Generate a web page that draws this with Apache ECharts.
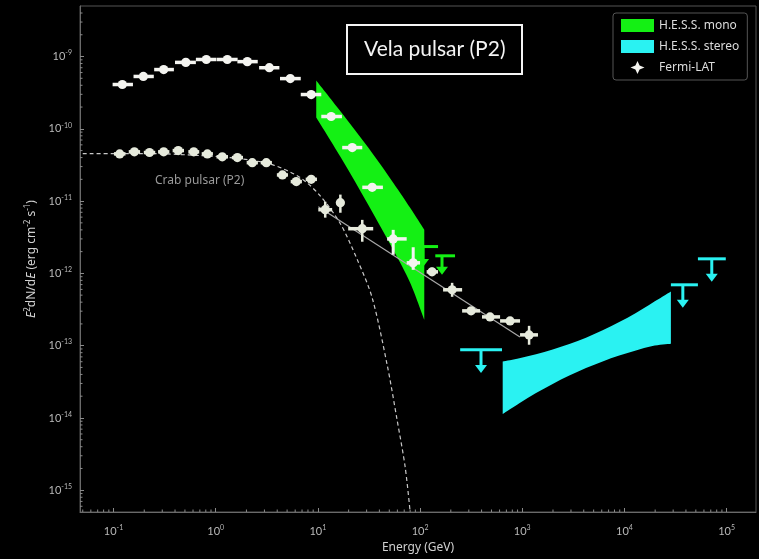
<!DOCTYPE html>
<html>
<head>
<meta charset="utf-8">
<script src="https://cdn.jsdelivr.net/npm/echarts@6/dist/echarts.min.js"></script>
<style>
  html, body { margin: 0; padding: 0; background: #000; }
  #chart { width: 759px; height: 559px; }
</style>
</head>
<body>
<div id="chart"></div>
<script>
// ---- Vela pulsar (P2), Fermi-LAT points (GeV, erg cm^-2 s^-1) ----
const velaE   = [0.122, 0.196, 0.31, 0.51, 0.81, 1.3, 2.04, 3.35, 5.37, 8.6, 13.5, 21.7, 34, 54.6, 85.7];
const velaF   = [4.1e-10, 5.3e-10, 6.6e-10, 8.3e-10, 9.1e-10, 9.1e-10, 8.5e-10, 7.0e-10, 4.95e-10, 2.98e-10, 1.48e-10, 5.5e-11, 1.55e-11, 3.0e-12, 1.4e-12];
const velaElo = [0.098, 0.157, 0.25, 0.40, 0.64, 1.03, 1.63, 2.66, 4.26, 6.8, 10.8, 17.3, 27.2, 47.6, 74];
const velaEhi = [0.155, 0.248, 0.39, 0.64, 1.02, 1.64, 2.58, 4.2, 6.8, 10.8, 17.2, 27.2, 43.3, 74, 100];
const velaFlo = [null, null, null, null, null, null, null, null, null, null, null, null, null, 1.81e-12, 1.12e-12];
const velaFhi = [null, null, null, null, null, null, null, null, null, null, null, null, null, 4.0e-12, 2.3e-12];

// ---- Crab pulsar (P2) points ----
const crabE   = [0.115, 0.16, 0.225, 0.31, 0.43, 0.61, 0.83, 1.16, 1.63, 2.28, 3.13, 4.5, 6.15, 8.6, 11.8, 16.6, 27.2, 131, 206, 316, 484, 760, 1167];
const crabF   = [4.5e-11, 4.8e-11, 4.7e-11, 4.8e-11, 5.0e-11, 4.8e-11, 4.5e-11, 4.1e-11, 4.0e-11, 3.4e-11, 3.4e-11, 2.3e-11, 1.86e-11, 2.0e-11, 7.6e-12, 9.5e-12, 4.15e-12, 1.05e-12, 5.93e-13, 3.03e-13, 2.5e-13, 2.2e-13, 1.41e-13];
const crabElo = [0.101, 0.141, 0.198, 0.273, 0.379, 0.54, 0.73, 1.02, 1.44, 2.01, 2.76, 3.97, 5.42, 7.6, 10.1, 15.2, 19.8, 116, 168, 258, 404, 607, 952];
const crabEhi = [0.131, 0.182, 0.256, 0.352, 0.49, 0.69, 0.94, 1.32, 1.85, 2.59, 3.55, 5.1, 6.98, 9.8, 13.8, 18.1, 34.8, 150, 258, 387, 607, 952, 1426];
const crabFlo = [null, null, null, null, null, null, null, null, null, null, null, null, null, null, 5.9e-12, 6.9e-12, 2.74e-12, 9.2e-13, 4.74e-13, 2.7e-13, 2.25e-13, 1.98e-13, 1.03e-13];
const crabFhi = [null, null, null, null, null, null, null, null, null, null, null, null, null, null, 9.8e-12, 1.23e-11, 5.5e-12, 1.2e-12, 7.4e-13, 3.4e-13, 2.78e-13, 2.45e-13, 1.88e-13];

// Crab model curve (dashed) and power-law fit (solid)
const crabModelE = [0.05, 0.23, 0.71, 1.74, 3.58, 6.73, 10.5, 16.6, 24.3, 34, 47.7, 59.7, 71.5, 80];
const crabModelF = [4.54e-11, 4.54e-11, 4.26e-11, 3.86e-11, 3.19e-11, 2.11e-11, 1.19e-11, 4.87e-12, 1.55e-12, 4.6e-13, 5.4e-14, 9.3e-15, 2.1e-15, 5e-16];
const crabFitE = [10.1, 950];
const crabFitF = [8.35e-12, 1.32e-13];

// ---- H.E.S.S. mono butterfly ----
const monoE  = [9.64, 17.3, 31.1, 54.6, 80, 110];
const monoHi = [4.66e-10, 1.63e-10, 5.5e-11, 1.8e-11, 8.1e-12, 4.02e-12];
const monoLo = [1.43e-10, 3.74e-11, 8.9e-12, 2.12e-12, 7.4e-13, 2.28e-13];

// ---- H.E.S.S. stereo butterfly ----
const stereoE  = [644, 937, 1365, 1986, 2891, 4207, 6124, 8898, 12950, 18840, 28500];
const stereoHi = [6.03e-14, 6.70e-14, 7.62e-14, 8.84e-14, 1.054e-13, 1.29e-13, 1.63e-13, 2.12e-13, 2.84e-13, 3.92e-13, 5.62e-13];
const stereoLo = [1.135e-14, 1.60e-14, 2.21e-14, 2.96e-14, 3.86e-14, 4.90e-14, 6.06e-14, 7.30e-14, 8.57e-14, 9.89e-14, 1.06e-13];

// ---- Upper limits: [E, F, Elo, Ehi, arrow tip F] ----
const monoUlE   = [107, 164];
const monoUlF   = [2.35e-12, 1.75e-12];
const monoUlElo = [76, 141];
const monoUlEhi = [150, 220];
const monoUlTip = [1.23e-12, 9.6e-13];

const stereoUlE   = [395, 37300, 71600];
const stereoUlF   = [8.75e-14, 6.95e-13, 1.59e-12];
const stereoUlElo = [247, 28500, 52400];
const stereoUlEhi = [634, 52400, 98200];
const stereoUlTip = [4.2e-14, 3.34e-13, 7.66e-13];

// Axis ranges and log minor tick mantissas
const xMin = 0.047, xMax = 1.94e5;
const yMin = 5e-16, yMax = 5e-9;
const minorMantissas = [2, 3, 4, 5, 6, 7, 8, 9];

const GREEN = '#14f014';
const CYAN = '#2af2f2';
const WHITE = '#f4f4f0';
const CREAM = '#e6eadc';
const FONT = 'Lato, "Noto Sans", sans-serif';
const WIDE = '"Noto Sans", Lato, sans-serif';

const zip = (...cols) => cols[0].map((_, i) => cols.map(c => (c[i] == null ? 0 : c[i])));

// Catmull-Rom spline through screen points, as SVG cubic segments
function splinePath(pts, start) {
  let d = start ? 'M' + pts[0][0] + ' ' + pts[0][1] : 'L' + pts[0][0] + ' ' + pts[0][1];
  for (let i = 0; i < pts.length - 1; i++) {
    const p0 = pts[Math.max(i - 1, 0)], p1 = pts[i], p2 = pts[i + 1], p3 = pts[Math.min(i + 2, pts.length - 1)];
    const c1 = [p1[0] + (p2[0] - p0[0]) / 6, p1[1] + (p2[1] - p0[1]) / 6];
    const c2 = [p2[0] - (p3[0] - p1[0]) / 6, p2[1] - (p3[1] - p1[1]) / 6];
    d += 'C' + c1[0] + ' ' + c1[1] + ' ' + c2[0] + ' ' + c2[1] + ' ' + p2[0] + ' ' + p2[1];
  }
  return d;
}

function pointRenderer(color, hw, vw, r) {
  return function (params, api) {
    const e = api.value(0), f = api.value(1);
    const c = api.coord([e, f]);
    const kids = [];
    const elo = api.value(2), ehi = api.value(3);
    if (elo > 0 && ehi > 0) {
      const a = api.coord([elo, f]), b = api.coord([ehi, f]);
      kids.push({ type: 'line', shape: { x1: a[0], y1: a[1], x2: b[0], y2: b[1] },
        style: { stroke: color, lineWidth: hw } });
    }
    const flo = api.value(4), fhi = api.value(5);
    if (flo > 0 && fhi > 0) {
      const a = api.coord([e, flo]), b = api.coord([e, fhi]);
      kids.push({ type: 'line', shape: { x1: a[0], y1: a[1], x2: b[0], y2: b[1] },
        style: { stroke: color, lineWidth: vw } });
    }
    kids.push({ type: 'circle', shape: { cx: c[0], cy: c[1], r: r }, style: { fill: color } });
    return { type: 'group', children: kids };
  };
}

// Filled butterfly: rows are [E, F upper, F lower]
function bandRenderer(color) {
  return function (params, api) {
    if (params.dataIndex !== 0) return null;
    const n = params.dataInsideLength;
    const top = [], bottom = [];
    for (let i = 0; i < n; i++) {
      const e = api.value(0, i);
      top.push(api.coord([e, api.value(1, i)]));
      bottom.push(api.coord([e, api.value(2, i)]));
    }
    const d = splinePath(top, true) + splinePath(bottom.reverse(), false) + 'Z';
    return { type: 'path', shape: { pathData: d }, style: { fill: color } };
  };
}

function ulRenderer(color) {
  return function (params, api) {
    const e = api.value(0), f = api.value(1);
    const a = api.coord([api.value(2), f]), b = api.coord([api.value(3), f]);
    const c = api.coord([e, f]);
    const tip = api.coord([e, api.value(4)]);
    const headH = 8, headW = 6;
    return { type: 'group', children: [
      { type: 'line', shape: { x1: a[0], y1: a[1], x2: b[0], y2: b[1] }, style: { stroke: color, lineWidth: 3 } },
      { type: 'line', shape: { x1: c[0], y1: c[1], x2: c[0], y2: tip[1] - headH + 1 }, style: { stroke: color, lineWidth: 3 } },
      { type: 'polygon', shape: { points: [[c[0] - headW, tip[1] - headH], [c[0] + headW, tip[1] - headH], [c[0], tip[1]]] },
        style: { fill: color } }
    ] };
  };
}

// Minor ticks at 2..9 x 10^n along both log axes, drawn inside the frame
function minorTickRenderer(params, api) {
  const kids = [];
  const stroke = { stroke: '#8a8a8a', lineWidth: 1 };
  for (let p = Math.floor(Math.log10(xMin)); p <= Math.ceil(Math.log10(xMax)); p++) {
    minorMantissas.forEach(m => {
      const v = m * Math.pow(10, p);
      if (v <= xMin || v >= xMax) return;
      const q = api.coord([v, yMin]);
      kids.push({ type: 'line', shape: { x1: q[0], y1: q[1], x2: q[0], y2: q[1] - 2.5 }, style: stroke });
    });
  }
  for (let p = Math.floor(Math.log10(yMin)); p <= Math.ceil(Math.log10(yMax)); p++) {
    minorMantissas.forEach(m => {
      const v = m * Math.pow(10, p);
      if (v <= yMin || v >= yMax) return;
      const q = api.coord([xMin, v]);
      kids.push({ type: 'line', shape: { x1: q[0], y1: q[1], x2: q[0] + 2.5, y2: q[1] }, style: stroke });
    });
  }
  return { type: 'group', children: kids };
}

function powLabel(v) {
  const p = Math.round(Math.log10(v));
  if (Math.abs(Math.log10(v) - p) > 1e-6) return '';
  return '10{s|' + p + '}';
}

const chart = echarts.init(document.getElementById('chart'));
chart.setOption({
  backgroundColor: '#000',
  animation: false,
  title: {
    text: 'Vela pulsar (P2)',
    left: 347, top: 25,
    padding: [14, 17],
    borderColor: '#f4f4f4', borderWidth: 2,
    textStyle: { color: '#f4f4f4', fontSize: 21, fontWeight: 'normal', fontFamily: FONT }
  },
  legend: {
    orient: 'vertical',
    left: 613, top: 13,
    padding: [6, 8, 6, 8],
    itemGap: 8, itemWidth: 33, itemHeight: 13,
    backgroundColor: '#000',
    borderColor: '#555', borderWidth: 1, borderRadius: 3,
    textStyle: { color: '#dcdcdc', fontSize: 12, fontFamily: WIDE },
    selectedMode: false,
    data: [
      { name: 'H.E.S.S. mono', icon: 'rect' },
      { name: 'H.E.S.S. stereo', icon: 'rect' },
      { name: 'Fermi-LAT', icon: 'path://M0,0M33,13M16.5,0L18.6,4.4L23.5,6.5L18.6,8.6L16.5,13L14.4,8.6L9.5,6.5L14.4,4.4Z' }
    ]
  },
  grid: {
    left: 80, top: 6, right: 3, bottom: 47,
    show: true, borderColor: '#555', borderWidth: 1
  },
  xAxis: {
    type: 'log', logBase: 10, min: xMin, max: xMax, splitNumber: 7,
    name: 'Energy (GeV)', nameLocation: 'middle', nameGap: 30,
    nameTextStyle: { color: '#d0d0d0', fontSize: 12, fontFamily: WIDE },
    axisLine: { lineStyle: { color: '#6a6a6a', width: 1 } },
    axisTick: { inside: true, length: 4, lineStyle: { color: '#8a8a8a' } },
    minorTick: { show: false },
    splitLine: { show: false },
    axisLabel: {
      color: '#b8b8b8', fontSize: 11, fontFamily: FONT, margin: 12,
      showMinLabel: false, showMaxLabel: false,
      formatter: powLabel,
      rich: { s: { fontSize: 7, padding: [0, 0, 7, 0], color: '#b8b8b8', fontFamily: FONT } }
    }
  },
  yAxis: {
    type: 'log', logBase: 10, min: yMin, max: yMax, splitNumber: 7,
    name: '{i|E}{s|2}dN/d{i|E} (erg cm{s|-2} s{s|-1})', nameLocation: 'middle', nameGap: 37, nameRotate: 90,
    nameTextStyle: { color: '#d0d0d0', fontSize: 12, fontFamily: WIDE,
      rich: { i: { fontStyle: 'italic', fontSize: 12, color: '#d0d0d0', fontFamily: WIDE },
              s: { fontSize: 8, padding: [0, 0, 7, 0], color: '#d0d0d0', fontFamily: WIDE } } },
    axisLine: { lineStyle: { color: '#6a6a6a', width: 1 } },
    axisTick: { inside: true, length: 4, lineStyle: { color: '#8a8a8a' } },
    minorTick: { show: false },
    splitLine: { show: false },
    axisLabel: {
      color: '#b8b8b8', fontSize: 11, fontFamily: FONT, margin: 8,
      showMinLabel: false, showMaxLabel: false,
      formatter: powLabel,
      rich: { s: { fontSize: 7, padding: [0, 0, 7, 0], color: '#b8b8b8', fontFamily: FONT } }
    }
  },
  graphic: [{
    type: 'text', left: 155, top: 175,
    style: { text: 'Crab pulsar (P2)', fill: '#9a9a9a', fontSize: 12, fontFamily: WIDE }
  }],
  series: [
    {
      name: 'minor ticks', type: 'custom', renderItem: minorTickRenderer, silent: true,
      encode: { x: 0, y: 1 }, data: [[1, 1e-12]], z: 1
    },
    {
      name: 'H.E.S.S. mono', type: 'custom', renderItem: bandRenderer(GREEN),
      itemStyle: { color: GREEN }, encode: { x: 0, y: 1 },
      data: zip(monoE, monoHi, monoLo)
    },
    {
      name: 'H.E.S.S. stereo', type: 'custom', renderItem: bandRenderer(CYAN),
      itemStyle: { color: CYAN }, encode: { x: 0, y: 1 },
      data: zip(stereoE, stereoHi, stereoLo)
    },
    {
      name: 'Crab model', type: 'line', showSymbol: false, smooth: 0.3,
      lineStyle: { color: '#c8c8c8', width: 1.2, type: [4, 3] },
      data: zip(crabModelE, crabModelF), z: 3
    },
    {
      name: 'Crab fit', type: 'line', showSymbol: false,
      lineStyle: { color: '#a8a8a8', width: 1.2 },
      data: zip(crabFitE, crabFitF), z: 3
    },
    {
      name: 'Crab pulsar (P2)', type: 'custom', renderItem: pointRenderer(CREAM, 3.5, 2.5, 4.6),
      itemStyle: { color: CREAM }, encode: { x: 0, y: 1 }, z: 4,
      data: zip(crabE, crabF, crabElo, crabEhi, crabFlo, crabFhi)
    },
    {
      name: 'H.E.S.S. mono UL', type: 'custom', renderItem: ulRenderer(GREEN),
      encode: { x: 0, y: 1 }, z: 4,
      data: zip(monoUlE, monoUlF, monoUlElo, monoUlEhi, monoUlTip)
    },
    {
      name: 'Fermi-LAT', type: 'custom', renderItem: pointRenderer(WHITE, 3.5, 3, 4.6),
      itemStyle: { color: WHITE }, encode: { x: 0, y: 1 }, z: 5,
      data: zip(velaE, velaF, velaElo, velaEhi, velaFlo, velaFhi)
    },
    {
      name: 'H.E.S.S. stereo UL', type: 'custom', renderItem: ulRenderer(CYAN),
      encode: { x: 0, y: 1 }, z: 4,
      data: zip(stereoUlE, stereoUlF, stereoUlElo, stereoUlEhi, stereoUlTip)
    }
  ]
});
</script>
</body>
</html>
